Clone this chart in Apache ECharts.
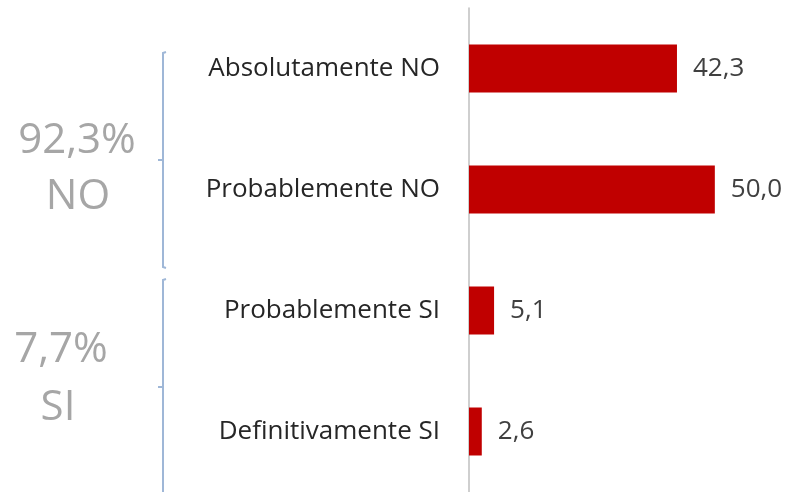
<!DOCTYPE html>
<html>
<head>
<meta charset="utf-8">
<script src="https://cdn.jsdelivr.net/npm/echarts@6/dist/echarts.min.js"></script>
<style>
  html, body { margin: 0; padding: 0; background: #ffffff; }
  #chart { width: 789px; height: 492px; }
</style>
</head>
<body>
<div id="chart"></div>
<script>
// answers, top to bottom
const categories = ['Absolutamente NO', 'Probablemente NO', 'Probablemente SI', 'Definitivamente SI'];
const values = [42.3, 50.0, 5.1, 2.6];

// group totals shown on the left
const noTotal = values[0] + values[1];
const siTotal = values[2] + values[3];

const fmt = v => v.toFixed(1).replace('.', ',');

const chart = echarts.init(document.getElementById('chart'));

const font = 'Open Sans';
const bracketColor = '#9fb7d7';
const bigGray = '#a6a6a6';

const option = {
  backgroundColor: '#ffffff',
  animation: false,
  grid: {
    left: 469,
    top: 8,
    width: 295,
    height: 484,
  },
  xAxis: {
    type: 'value',
    min: 0,
    max: 60,
    show: false,
  },
  yAxis: {
    type: 'category',
    inverse: true,
    data: categories,
    axisLine: {
      show: true,
      lineStyle: { color: '#bfbfbf', width: 1.5 },
    },
    axisTick: { show: false },
    axisLabel: {
      margin: 29,
      fontFamily: font,
      fontSize: 26,
      color: '#262626',
    },
  },
  series: [
    {
      type: 'bar',
      data: values,
      barWidth: 48,
      itemStyle: { color: '#c00000' },
      label: {
        show: true,
        position: 'right',
        distance: 16,
        fontFamily: font,
        fontSize: 26,
        color: '#404040',
        formatter: p => fmt(p.value),
      },
    },
  ],
  graphic: [
    // NO bracket
    {
      type: 'polyline',
      shape: { points: [[166, 52], [163, 53], [163, 267], [166, 268]] },
      style: { stroke: bracketColor, lineWidth: 2, fill: null },
    },
    {
      type: 'line',
      shape: { x1: 158, y1: 160, x2: 163, y2: 160 },
      style: { stroke: bracketColor, lineWidth: 2 },
    },
    // SI bracket
    {
      type: 'polyline',
      shape: { points: [[166, 279], [163, 280], [163, 492]] },
      style: { stroke: bracketColor, lineWidth: 2, fill: null },
    },
    {
      type: 'line',
      shape: { x1: 158, y1: 387, x2: 163, y2: 387 },
      style: { stroke: bracketColor, lineWidth: 2 },
    },
    {
      type: 'text',
      style: {
        x: 77, y: 141,
        text: fmt(noTotal) + '%',
        align: 'center', verticalAlign: 'middle',
        fontFamily: font, fontSize: 42, fill: bigGray,
      },
    },
    {
      type: 'text',
      style: {
        x: 78, y: 197,
        text: 'NO',
        align: 'center', verticalAlign: 'middle',
        fontFamily: font, fontSize: 42, fill: bigGray,
      },
    },
    {
      type: 'text',
      style: {
        x: 61, y: 350,
        text: fmt(siTotal) + '%',
        align: 'center', verticalAlign: 'middle',
        fontFamily: font, fontSize: 42, fill: bigGray,
      },
    },
    {
      type: 'text',
      style: {
        x: 58, y: 408,
        text: 'SI',
        align: 'center', verticalAlign: 'middle',
        fontFamily: font, fontSize: 42, fill: bigGray,
      },
    },
  ],
};

chart.setOption(option);
</script>
</body>
</html>
